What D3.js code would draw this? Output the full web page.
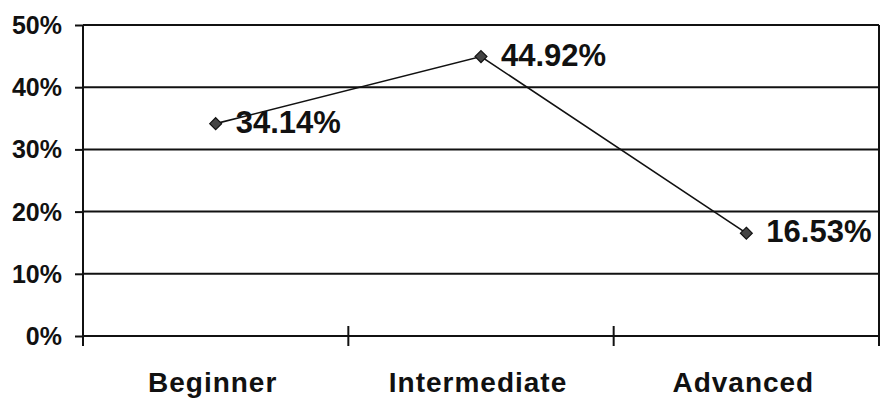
<!DOCTYPE html>
<html>
<head>
<meta charset="utf-8">
<script src="https://cdn.jsdelivr.net/npm/d3@7"></script>
<style>
  html, body { margin: 0; padding: 0; background: #fff; }
  svg { display: block; }
  text { font-family: "Liberation Sans", Arial, sans-serif; font-weight: bold; fill: #111; }
</style>
</head>
<body>
<div id="chart"></div>
<script>
// Skill level share of respondents
const categories = ["Beginner", "Intermediate", "Advanced"];
const shares = [0.3414, 0.4492, 0.1653];
const yTicks = [0, 0.1, 0.2, 0.3, 0.4, 0.5];

const width = 880, height = 405;
const margin = { left: 83, right: 1, top: 25, bottom: 69 };

const svg = d3.select("#chart").append("svg")
  .attr("width", width).attr("height", height);

const x = d3.scaleBand()
  .domain(categories)
  .range([margin.left, width - margin.right])
  .paddingInner(0).paddingOuter(0);

const y = d3.scaleLinear()
  .domain([0, 0.5])
  .range([height - margin.bottom, margin.top]);

const pct = d3.format(".0%");
const pct2 = d3.format(".2%");

// Horizontal gridlines
svg.append("g")
  .selectAll("line")
  .data(yTicks)
  .join("line")
  .attr("x1", margin.left).attr("x2", width - margin.right)
  .attr("y1", d => y(d)).attr("y2", d => y(d))
  .attr("stroke", "#111").attr("stroke-width", 2);

// Y axis with outward ticks
const yAxis = svg.append("g")
  .attr("transform", `translate(${margin.left},0)`)
  .call(d3.axisLeft(y).tickValues(yTicks).tickFormat(pct).tickSize(8).tickPadding(13));
yAxis.select(".domain").remove();
yAxis.selectAll(".tick line").attr("stroke", "#111").attr("stroke-width", 2);
yAxis.selectAll(".tick text")
  .style("font-size", "25px")
  .attr("dy", "0.34em")
  .attr("fill", "#111");

// Left axis line extends below the baseline
svg.append("line")
  .attr("x1", margin.left).attr("x2", margin.left)
  .attr("y1", y(0.5)).attr("y2", y(0) + 10)
  .attr("stroke", "#111").attr("stroke-width", 2);

// Right border of the plot area
svg.append("line")
  .attr("x1", width - margin.right).attr("x2", width - margin.right)
  .attr("y1", y(0.5)).attr("y2", y(0) + 10)
  .attr("stroke", "#111").attr("stroke-width", 2);

// Category separator ticks crossing the baseline
const bounds = categories.slice(1).map(c => x(c));
svg.append("g")
  .selectAll("line")
  .data(bounds)
  .join("line")
  .attr("x1", d => d).attr("x2", d => d)
  .attr("y1", y(0) - 10).attr("y2", y(0) + 10)
  .attr("stroke", "#111").attr("stroke-width", 2);

// Category labels
svg.append("g")
  .selectAll("text")
  .data(categories)
  .join("text")
  .attr("x", d => x(d) + x.bandwidth() / 2 - 3)
  .attr("y", 392)
  .attr("text-anchor", "middle")
  .style("font-size", "28px")
  .style("letter-spacing", "1px")
  .text(d => d);

const pts = categories.map((c, i) => ({ c, v: shares[i] }));
const cx = d => x(d.c) + x.bandwidth() / 2;

// Series line
svg.append("path")
  .datum(pts)
  .attr("fill", "none")
  .attr("stroke", "#111")
  .attr("stroke-width", 1.6)
  .attr("d", d3.line().x(cx).y(d => y(d.v)));

// Diamond markers
svg.append("g")
  .selectAll("path")
  .data(pts)
  .join("path")
  .attr("transform", d => `translate(${cx(d)},${y(d.v)})`)
  .attr("d", d3.symbol(d3.symbolDiamond2, 90))
  .attr("fill", "#444")
  .attr("stroke", "#111")
  .attr("stroke-width", 1.2);

// Value labels
svg.append("g")
  .selectAll("text")
  .data(pts)
  .join("text")
  .attr("x", d => cx(d) + 20)
  .attr("y", d => y(d.v) + 9)
  .style("font-size", "31px")
  .text(d => pct2(d.v));
</script>
</body>
</html>
